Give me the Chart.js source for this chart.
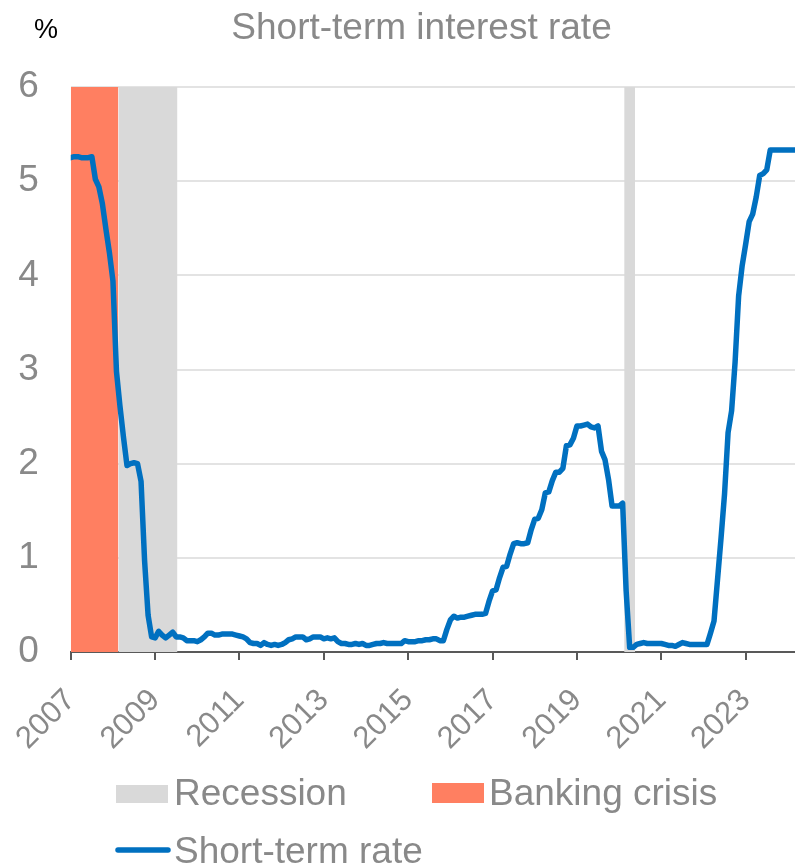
<!DOCTYPE html>
<html>
<head>
<meta charset="utf-8">
<title>Short-term interest rate</title>
<script src="https://cdn.jsdelivr.net/npm/chart.js@4.4.1/dist/chart.umd.min.js"></script>
<style>
  html, body { margin: 0; padding: 0; background: #ffffff; }
  #wrap { width: 795px; height: 866px; position: relative; }
</style>
</head>
<body>
<div id="wrap"><canvas id="chart" width="795" height="866"></canvas></div>
<script>
// Monthly short-term rate (%), January to December of each year
const firstYear = 2007;
const rate2007 = [5.25, 5.26, 5.26, 5.25, 5.25, 5.25, 5.26, 5.02, 4.94, 4.76, 4.49, 4.24];
const rate2008 = [3.94, 2.98, 2.61, 2.28, 1.98, 2.00, 2.01, 2.00, 1.81, 0.97, 0.39, 0.16];
const rate2009 = [0.15, 0.22, 0.18, 0.15, 0.18, 0.21, 0.16, 0.16, 0.15, 0.12, 0.12, 0.12];
const rate2010 = [0.11, 0.13, 0.16, 0.20, 0.20, 0.18, 0.18, 0.19, 0.19, 0.19, 0.19, 0.18];
const rate2011 = [0.17, 0.16, 0.14, 0.10, 0.09, 0.09, 0.07, 0.10, 0.08, 0.07, 0.08, 0.07];
const rate2012 = [0.08, 0.10, 0.13, 0.14, 0.16, 0.16, 0.16, 0.13, 0.14, 0.16, 0.16, 0.16];
const rate2013 = [0.14, 0.15, 0.14, 0.15, 0.11, 0.09, 0.09, 0.08, 0.08, 0.09, 0.08, 0.09];
const rate2014 = [0.07, 0.07, 0.08, 0.09, 0.09, 0.10, 0.09, 0.09, 0.09, 0.09, 0.09, 0.12];
const rate2015 = [0.11, 0.11, 0.11, 0.12, 0.12, 0.13, 0.13, 0.14, 0.14, 0.12, 0.12, 0.24];
const rate2016 = [0.34, 0.38, 0.36, 0.37, 0.37, 0.38, 0.39, 0.40, 0.40, 0.40, 0.41, 0.54];
const rate2017 = [0.65, 0.66, 0.79, 0.90, 0.91, 1.04, 1.15, 1.16, 1.15, 1.15, 1.16, 1.30];
const rate2018 = [1.41, 1.42, 1.51, 1.69, 1.70, 1.82, 1.91, 1.91, 1.95, 2.19, 2.20, 2.27];
const rate2019 = [2.40, 2.40, 2.41, 2.42, 2.39, 2.38, 2.40, 2.13, 2.04, 1.83, 1.55, 1.55];
const rate2020 = [1.55, 1.58, 0.65, 0.05, 0.05, 0.08, 0.09, 0.10, 0.09, 0.09, 0.09, 0.09];
const rate2021 = [0.09, 0.08, 0.07, 0.07, 0.06, 0.08, 0.10, 0.09, 0.08, 0.08, 0.08, 0.08];
const rate2022 = [0.08, 0.08, 0.20, 0.33, 0.77, 1.21, 1.68, 2.33, 2.56, 3.08, 3.78, 4.10];
const rate2023 = [4.33, 4.57, 4.65, 4.83, 5.06, 5.08, 5.12, 5.33, 5.33, 5.33, 5.33, 5.33];
const rate2024 = [5.33, 5.33, 5.33];

// Shaded periods, as decimal years [start, end]
const recessionPeriods = [[2008.13, 2009.53], [2020.12, 2020.38]];
const bankingCrisisPeriods = [[2007.0, 2008.13]];

// Axis ticks
const xTickYears = [2007, 2009, 2011, 2013, 2015, 2017, 2019, 2021, 2023];
const yTickValues = [0, 1, 2, 3, 4, 5, 6];
const xMin = 2007;
const xMax = 2024.17;

const titleText = 'Short-term interest rate';
const unitText = '%';
const legendRecession = 'Recession';
const legendBanking = 'Banking crisis';
const legendRate = 'Short-term rate';

const FONT = '"Liberation Sans", Arial, Helvetica, sans-serif';
const TEXT_GREY = '#898989';
const LINE_BLUE = '#0070C0';
const RECESSION_GREY = '#D9D9D9';
const CRISIS_CORAL = '#FF7F61';

const yearly = [rate2007, rate2008, rate2009, rate2010, rate2011, rate2012, rate2013, rate2014,
  rate2015, rate2016, rate2017, rate2018, rate2019, rate2020, rate2021, rate2022, rate2023, rate2024];
const ratePoints = [];
yearly.forEach((vals, yi) => {
  vals.forEach((v, m) => ratePoints.push({ x: firstYear + yi + m / 12, y: v }));
});

const yTop = yTickValues[yTickValues.length - 1];
function bandDataset(period, color, label) {
  return {
    type: 'line',
    label: label,
    data: [{ x: period[0], y: yTop }, { x: period[1], y: yTop }],
    backgroundColor: color,
    borderWidth: 0,
    borderColor: 'rgba(0,0,0,0)',
    pointRadius: 0,
    fill: 'origin',
    order: 2
  };
}

const datasets = [
  {
    type: 'line',
    label: legendRate,
    data: ratePoints,
    borderColor: LINE_BLUE,
    borderWidth: 5.5,
    pointRadius: 0,
    tension: 0,
    fill: false,
    borderJoinStyle: 'round',
    borderCapStyle: 'round',
    order: 0
  },
  ...recessionPeriods.map(p => bandDataset(p, RECESSION_GREY, legendRecession)),
  ...bankingCrisisPeriods.map(p => bandDataset(p, CRISIS_CORAL, legendBanking))
];

// Title, unit label and the two-row legend
const decorations = {
  id: 'decorations',
  afterDraw(chart) {
    const ctx = chart.ctx;
    ctx.save();
    ctx.textBaseline = 'alphabetic';

    ctx.fillStyle = TEXT_GREY;
    ctx.font = '37px ' + FONT;
    ctx.textAlign = 'center';
    ctx.fillText(titleText, 421.5, 39);

    ctx.fillStyle = '#000000';
    ctx.font = '27px ' + FONT;
    ctx.textAlign = 'left';
    ctx.fillText(unitText, 34, 38);

    ctx.font = '37px ' + FONT;
    ctx.fillStyle = RECESSION_GREY;
    ctx.fillRect(116, 785, 52, 18);
    ctx.fillStyle = TEXT_GREY;
    ctx.fillText(legendRecession, 174, 805);

    ctx.fillStyle = CRISIS_CORAL;
    ctx.fillRect(432, 783, 52, 20);
    ctx.fillStyle = TEXT_GREY;
    ctx.fillText(legendBanking, 489, 805);

    ctx.strokeStyle = LINE_BLUE;
    ctx.lineWidth = 5.5;
    ctx.lineCap = 'round';
    ctx.beginPath();
    ctx.moveTo(118, 850);
    ctx.lineTo(168, 850);
    ctx.stroke();
    ctx.fillStyle = TEXT_GREY;
    ctx.fillText(legendRate, 174, 863);
    ctx.restore();
  }
};

new Chart(document.getElementById('chart'), {
  data: { datasets },
  options: {
    responsive: false,
    animation: false,
    devicePixelRatio: 1,
    layout: { padding: { top: 87, left: 0, right: 0, bottom: 104 } },
    plugins: {
      legend: { display: false },
      title: { display: false },
      tooltip: { enabled: false }
    },
    scales: {
      x: {
        type: 'linear',
        min: xMin,
        max: xMax,
        afterBuildTicks(scale) { scale.ticks = xTickYears.map(v => ({ value: v })); },
        afterFit(scale) { scale.height = 110; },
        ticks: {
          autoSkip: false,
          minRotation: 45,
          maxRotation: 45,
          padding: 22,
          color: TEXT_GREY,
          font: { family: FONT, size: 31 },
          callback: v => String(v)
        },
        grid: { drawOnChartArea: false, drawTicks: true, tickLength: 8, color: '#595959', lineWidth: 2 },
        border: { display: true, color: '#595959', width: 2 }
      },
      y: {
        min: 0,
        max: yTop,
        afterBuildTicks(scale) { scale.ticks = yTickValues.map(v => ({ value: v })); },
        afterFit(scale) { scale.width = 70; },
        ticks: {
          padding: 32,
          color: TEXT_GREY,
          font: { family: FONT, size: 37 },
          callback: v => String(v)
        },
        grid: { color: '#E3E3E3', lineWidth: 2, drawTicks: false },
        border: { display: false }
      }
    }
  },
  plugins: [decorations]
});
</script>
</body>
</html>
